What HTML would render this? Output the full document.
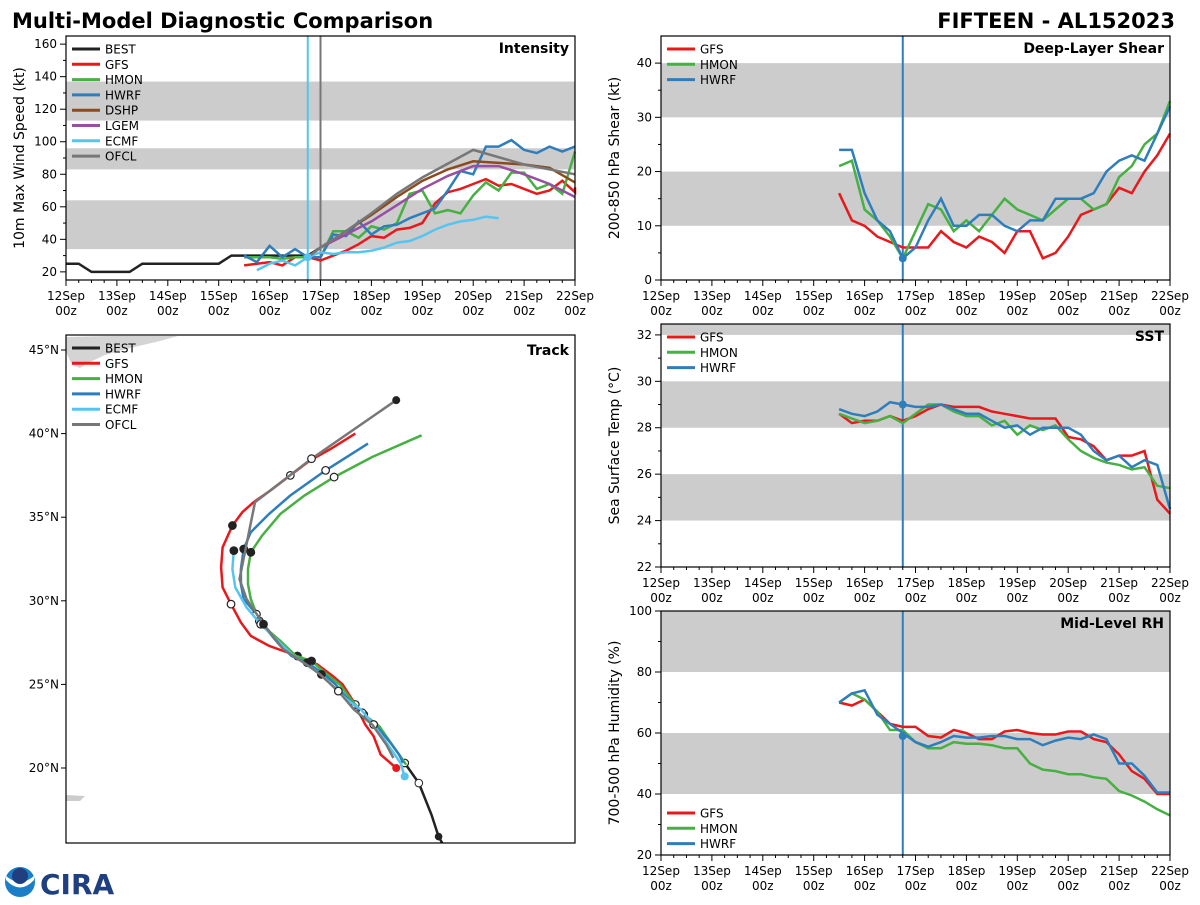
<!DOCTYPE html>
<html><head><meta charset="utf-8">
<style>
body{margin:0;background:#fff;}
svg text{font-family:"DejaVu Sans","Liberation Sans",sans-serif;}
</style></head>
<body>
<svg id="s" width="1200" height="900" xmlns="http://www.w3.org/2000/svg">
<rect width="1200" height="900" fill="#fff"/>
<text x="12" y="28" font-size="21" font-weight="bold">Multi-Model Diagnostic Comparison</text>
<text x="1175" y="28" font-size="21" font-weight="bold" text-anchor="end">FIFTEEN - AL152023</text>
<g>
<circle cx="20" cy="882" r="15" fill="#1a7fc8"/>
<path d="M6 880 Q20 895 34 880 L34 876 Q20 888 6 876Z" fill="#fff"/>
<circle cx="20" cy="876" r="8" fill="#1f3f80"/>
<text x="40" y="894" font-size="28" font-weight="bold" fill="#1f3f80" font-family="Liberation Serif,serif">CIRA</text>
</g>
<g id="root"></g>
</svg>
<script>
const days=["12Sep","13Sep","14Sep","15Sep","16Sep","17Sep","18Sep","19Sep","20Sep","21Sep","22Sep"];
// Intensity
const intBestT=[0,0.25,0.5,0.75,1,1.25,1.5,1.75,2,2.25,2.5,2.75,3,3.25,3.5,3.75,4,4.25,4.5,4.75,5];
const intBest=[25,25,20,20,20,20,25,25,25,25,25,25,25,30,30,30,30,30,30,30,35];
const t27=[];for(let i=0;i<27;i++)t27.push(3.5+i*0.25);
const intGFS=[24,25,26,24,29,29,27,30,33,37,42,41,46,47,50,62,69,71,74,77,73,74,71,68,70,76,69];
const intGFSend=72;
const intHMON=[29,29,29,28,29,29,29,45,45,41,48,46,50,68,70,56,58,56,67,75,70,81,81,71,74,68,94];
const intHWRF=[30,26,36,29,34,29,29,43,42,51,43,48,49,53,56,59,70,82,80,97,97,101,95,93,97,94,97];
const intDSHPt=[4.75,5,5.5,6,6.5,7,7.5,8,8.5,9,9.5,10];
const intDSHP=[29,35,45,55,66,76,83,88,87,86,84,75];
const intLGEMt=[4.75,5,5.5,6,6.5,7,7.5,8,8.5,9,9.5,10];
const intLGEM=[29,35,43,51,61,71,79,85,85,80,74,66];
const intECMFt=[3.75,4,4.25,4.5,4.75,5,5.25,5.5,5.75,6,6.25,6.5,6.75,7,7.25,7.5,7.75,8,8.25,8.5];
const intECMF=[21,25,27,24,29,32,31,32,32,33,35,38,39,42,46,49,51,52,54,53];
const intOFCLt=[4.75,5,5.5,6,6.5,7,8,9,10];
const intOFCL=[29,35,45,56,68,78,95,86,80];
// Shear
const shGFS=[16,11,10,8,7,6,6,6,9,7,6,8,7,5,9,9,4,5,8,12,13,14,17,16,20,23,27];
const shHMON=[21,22,13,11,8,4,9,14,13,9,11,9,12,15,13,12,11,13,15,15,13,14,19,21,25,27,33];
const shHWRF=[24,24,16,11,9,4,6,11,15,10,10,12,12,10,9,11,11,15,15,15,16,20,22,23,22,27,32];
// SST
const sstGFS=[28.6,28.2,28.3,28.3,28.5,28.3,28.5,28.8,29.0,28.9,28.9,28.9,28.7,28.6,28.5,28.4,28.4,28.4,27.6,27.5,27.2,26.6,26.8,26.8,27.0,24.9,24.3];
const sstHMON=[28.6,28.4,28.2,28.3,28.5,28.2,28.6,29.0,29.0,28.7,28.5,28.5,28.1,28.3,27.7,28.1,27.9,28.1,27.5,27.0,26.7,26.5,26.4,26.2,26.3,25.5,25.4];
const sstHWRF=[28.8,28.6,28.5,28.7,29.1,29.0,28.9,28.9,29.0,28.8,28.6,28.6,28.3,28.0,28.1,27.7,28.0,28.0,28.0,27.7,27.0,26.6,26.8,26.3,26.6,26.4,24.5];
// RH
const rhGFS=[70,69,71,67,63,62,62,59,58.5,61,60,58,58,60.5,61,60,59.5,59.5,60.5,60.5,58,57,53,47.5,45,40,40];
const rhHMON=[70,73,71,67,61,61,57,55,55,57,56.5,56.5,56,55,55,50,48,47.5,46.5,46.5,45.5,45,41,39.5,37.5,35,33];
const rhHWRF=[70,73,74,66,63,60,57,55.5,57,59,58.5,58.5,59,59,58,58,56,57.5,58.5,58,59.5,58,50,50,46,40.5,40.5];
// Track (lon, lat)
const trBEST=[[-49.7,15.3],[-50.1,15.9],[-50.6,17.2],[-51.5,19.1],[-52.5,20.3]];
const trGFS=[[-53.1,20.0],[-54.2,20.8],[-54.7,21.9],[-55.3,22.6],[-56.0,23.8],[-56.9,25.0],[-57.6,25.5],[-58.7,26.2],[-60.1,26.7],[-62.1,27.3],[-63.4,27.9],[-64.1,28.7],[-64.8,29.8],[-65.4,30.8],[-65.5,32.0],[-65.4,33.2],[-64.7,34.5],[-64.0,35.3],[-63.2,35.9],[-62.0,36.6],[-60.6,37.5],[-59.2,38.4],[-57.7,39.1],[-56.0,40.0]];
const trHMON=[[-52.4,20.2],[-52.9,20.8],[-53.4,21.4],[-54.3,22.5],[-55.4,23.2],[-56.3,24.1],[-57.1,25.0],[-58.0,25.6],[-59.1,26.4],[-60.2,26.7],[-61.3,27.6],[-62.0,28.1],[-62.8,28.8],[-63.4,30.1],[-63.6,31.0],[-63.6,31.9],[-63.4,32.9],[-62.6,33.9],[-61.3,35.2],[-59.6,36.3],[-57.5,37.4],[-54.8,38.6],[-51.3,39.9]];
const trHWRF=[[-52.6,20.3],[-52.9,20.8],[-53.5,21.5],[-54.5,22.5],[-55.5,23.3],[-56.6,24.2],[-57.4,25.0],[-58.2,25.6],[-59.4,26.3],[-60.5,26.7],[-61.4,27.4],[-62.3,28.3],[-63.0,29.2],[-63.9,30.1],[-64.1,31.0],[-64.1,31.9],[-63.9,33.1],[-63.4,34.1],[-62.1,35.2],[-60.6,36.3],[-58.1,37.8],[-55.1,39.4]];
const trECMF=[[-52.5,19.5],[-52.8,20.3],[-53.2,20.8],[-53.7,21.4],[-54.7,22.6],[-55.6,23.5],[-56.6,24.1],[-57.5,24.8],[-58.4,25.6],[-59.5,26.2],[-60.5,26.8],[-61.6,27.7],[-62.7,28.6],[-63.7,29.6],[-64.5,30.8],[-64.7,31.9],[-64.6,33.0]];
const trOFCL=[[-53.3,20.6],[-53.8,21.4],[-54.8,22.6],[-56.1,23.5],[-57.2,24.6],[-58.5,25.6],[-59.3,26.1],[-61.1,27.1],[-62.5,28.6],[-63.7,30.1],[-64.2,31.3],[-63.1,35.9],[-59.1,38.5],[-53.1,42.0]];

const NS='http://www.w3.org/2000/svg';
const root=document.getElementById('root');
function el(tag,attrs,parent,txt){const e=document.createElementNS(NS,tag);for(const k in attrs)e.setAttribute(k,attrs[k]);if(txt!==undefined)e.textContent=txt;(parent||root).appendChild(e);return e;}
const C={BEST:'#222',GFS:'#e8191c',HMON:'#47b043',HWRF:'#2f7ebc',DSHP:'#8c4a1f',LGEM:'#984ea3',ECMF:'#55c5f0',OFCL:'#777'};

function timePanel(o){
  const g=el('g',{});
  
  
  const X=t=>o.x0+(t/10)*(o.x1-o.x0);
  const Y=v=>o.y1-(v-o.vmin)/(o.vmax-o.vmin)*(o.y1-o.y0);
  o.bands.forEach(b=>{const r=el('rect',{x:o.x0,y:Y(Math.min(b[1],o.vmax)),width:o.x1-o.x0,height:Y(b[0])-Y(Math.min(b[1],o.vmax)),fill:'#cccccc'},g);
    });
  for(let i=0;i<=10;i++){const x=X(i);el('line',{x1:x,x2:x,y1:o.y1,y2:o.y1+6,stroke:'#000'},g);
    for(let k=1;k<4;k++)if(i<10)el('line',{x1:X(i+k/4),x2:X(i+k/4),y1:o.y1,y2:o.y1+3,stroke:'#000'},g);
    const tl=el('text',{x:x,y:o.y1+20,'font-size':12,'text-anchor':'middle'},g,days[i]);
    
    el('text',{x:x,y:o.y1+35,'font-size':12,'text-anchor':'middle'},g,'00z');}
  o.ticks.forEach(v=>{const y=Y(v);el('line',{x1:o.x0-6,x2:o.x0,y1:y,y2:y,stroke:'#000'},g);
    const tl=el('text',{x:o.x0-9,y:y+4,'font-size':12,'text-anchor':'end'},g,String(v));
    });
  (o.minor||[]).forEach(v=>{const y=Y(v);el('line',{x1:o.x0-3,x2:o.x0,y1:y,y2:y,stroke:'#000'},g);});
  const yt=el('text',{transform:`translate(${o.x0-42},${(o.y0+o.y1)/2}) rotate(-90)`,'font-size':14,'text-anchor':'middle'},g,o.ylabel);
  
  (o.vlines||[]).forEach(v=>el('line',{x1:X(v[0]),x2:X(v[0]),y1:o.y0,y2:o.y1,stroke:v[1],'stroke-width':2},g));
  o.series.forEach(s=>{
    const pts=s.t.map((t,i)=>X(t).toFixed(1)+','+Y(s.v[i]).toFixed(1)).join(' ');
    const p=el('polyline',{points:pts,fill:'none',stroke:C[s.k],'stroke-width':2.5},g);
    
  });
  (o.dots||[]).forEach(d=>el('circle',{cx:X(d[0]),cy:Y(d[1]),r:4,fill:d[2]},g));
  el('rect',{x:o.x0,y:o.y0,width:o.x1-o.x0,height:o.y1-o.y0,fill:'none',stroke:'#000','stroke-width':1.2},g);
  const tt=el('text',{x:o.x1-6,y:o.y0+17,'font-size':14,'font-weight':'bold','text-anchor':'end'},g,o.title);
  
  legend(g,o.x0+6,o.ly||o.y0+13,o.series.map(s=>s.k).filter((k,i,a)=>a.indexOf(k)===i),o.legOrder);
}
function legend(g,x,y,keys,order){
  const L=el('g',{},g);
  (order||keys).forEach((k,i)=>{el('line',{x1:x,x2:x+28,y1:y+i*15.3,y2:y+i*15.3,stroke:C[k],'stroke-width':3},L);
    const t=el('text',{x:x+33,y:y+i*15.3+4.5,'font-size':12},L,k);});
}
const tdx=t27;
timePanel({name:'intensity-panel',x0:66,x1:575,y0:36,y1:280,vmin:15,vmax:165,ticks:[20,40,60,80,100,120,140,160],minor:[30,50,70,90,110,130,150],
 bands:[[34,64],[83,96],[113,137]],ylabel:'10m Max Wind Speed (kt)',title:'Intensity',vlines:[[4.75,'#55c5f0'],[5,'#777']],
 legOrder:['BEST','GFS','HMON','HWRF','DSHP','LGEM','ECMF','OFCL'],
 series:[{k:'BEST',t:intBestT,v:intBest},{k:'GFS',t:tdx.concat([10]),v:intGFS.concat([intGFSend])},{k:'HMON',t:tdx,v:intHMON},{k:'HWRF',t:tdx,v:intHWRF},
 {k:'DSHP',t:intDSHPt,v:intDSHP},{k:'LGEM',t:intLGEMt,v:intLGEM},{k:'ECMF',t:intECMFt,v:intECMF},{k:'OFCL',t:intOFCLt,v:intOFCL}].map(s=>{if(s.t.length>s.v.length)s.t=s.t.slice(0,s.v.length);return s;}),
 dots:[[4.75,29,'#55c5f0']]});
timePanel({name:'shear-panel',x0:661,x1:1170,y0:36,y1:280,vmin:0,vmax:45,ticks:[0,10,20,30,40],minor:[5,15,25,35],bands:[[10,20],[30,40]],
 ylabel:'200-850 hPa Shear (kt)',title:'Deep-Layer Shear',vlines:[[4.75,'#2f7ebc']],
 series:[{k:'GFS',t:tdx,v:shGFS},{k:'HMON',t:tdx,v:shHMON},{k:'HWRF',t:tdx,v:shHWRF}],dots:[[4.75,4,'#2f7ebc']]});
timePanel({name:'sst-panel',x0:661,x1:1170,y0:324,y1:567,vmin:22,vmax:32.47,ticks:[22,24,26,28,30,32],minor:[23,25,27,29,31],bands:[[24,26],[28,30],[32,33]],
 ylabel:'Sea Surface Temp (°C)',title:'SST',vlines:[[4.75,'#2f7ebc']],
 series:[{k:'GFS',t:tdx,v:sstGFS},{k:'HMON',t:tdx,v:sstHMON},{k:'HWRF',t:tdx,v:sstHWRF}],dots:[[4.75,29,'#2f7ebc']]});
timePanel({name:'rh-panel',x0:661,x1:1170,y0:611,y1:855,vmin:20,vmax:100,ticks:[20,40,60,80,100],minor:[30,50,70,90],bands:[[40,60],[80,100]],
 ylabel:'700-500 hPa Humidity (%)',title:'Mid-Level RH',vlines:[[4.75,'#2f7ebc']],ly:813,
 series:[{k:'GFS',t:tdx,v:rhGFS},{k:'HMON',t:tdx,v:rhHMON},{k:'HWRF',t:tdx,v:rhHWRF}],dots:[[4.75,59,'#2f7ebc']]});

// Track panel
(function(){
  const x0=66,x1=575,y0=335,y1=843;
  const g=el('g',{});
  const LX=lon=>x0+21+(lon+75)*14.12;
  const LY=lat=>768-(lat-20)*16.72;
  el('clipPath',{id:'tc'},g).appendChild(document.createElementNS(NS,'rect'));
  const cr=g.querySelector('#tc rect');cr.setAttribute('x',x0);cr.setAttribute('y',y0);cr.setAttribute('width',x1-x0);cr.setAttribute('height',y1-y0);
  const land=el('g',{'clip-path':'url(#tc)'},g);
  el('path',{d:'M66 337 L110 336 L150 336 L178 336 L160 341 L130 348 L105 355 L90 362 L80 368 L72 365 L66 352Z',fill:'#d4d4d4'},land);
  el('path',{d:'M66 795 L85 796 L80 801 L66 801Z',fill:'#cccccc'},land);
  [45,40,35,30,25,20].forEach(lat=>{const y=LY(lat);el('line',{x1:x0-5,x2:x0,y1:y,y2:y,stroke:'#000'},g);
    const t=el('text',{x:x0-7,y:y+4,'font-size':12,'text-anchor':'end'},g,lat+'°N');});
  const sers=[['BEST',trBEST],['GFS',trGFS],['HMON',trHMON],['HWRF',trHWRF],['ECMF',trECMF],['OFCL',trOFCL]];
  sers.forEach(([k,d])=>{
    const p=el('polyline',{points:d.map(q=>LX(q[0]).toFixed(1)+','+LY(q[1]).toFixed(1)).join(' '),fill:'none',stroke:C[k],'stroke-width':2.5,'clip-path':'url(#tc)'},g);
    
    d.forEach((q,i)=>{if(i>0&&i%4===0){const blk=(i/4)%2===0;el('circle',{cx:LX(q[0]),cy:LY(q[1]),r:3.8,fill:blk?'#222':'#fff',stroke:'#222','stroke-width':1.2},g);}});
  });
  el('circle',{cx:LX(trBEST[3][0]),cy:LY(trBEST[3][1]),r:3.8,fill:'#fff',stroke:'#222'},g);
  el('circle',{cx:LX(trBEST[1][0]),cy:LY(trBEST[1][1]),r:3.8,fill:'#222'},g);
  el('circle',{cx:LX(trGFS[0][0]),cy:LY(trGFS[0][1]),r:4,fill:C.GFS},g);
  el('circle',{cx:LX(trECMF[0][0]),cy:LY(trECMF[0][1]),r:4,fill:C.ECMF},g);
  el('circle',{cx:LX(trOFCL[13][0]),cy:LY(trOFCL[13][1]),r:4,fill:'#222'},g);
  el('rect',{x:x0,y:y0,width:x1-x0,height:y1-y0,fill:'none',stroke:'#000','stroke-width':1.2},g);
  const tt=el('text',{x:x1-6,y:y0+20,'font-size':14,'font-weight':'bold','text-anchor':'end'},g,'Track');
  
  legend(g,x0+6,y0+13,['BEST','GFS','HMON','HWRF','ECMF','OFCL']);
})();
</script>
</body></html>
